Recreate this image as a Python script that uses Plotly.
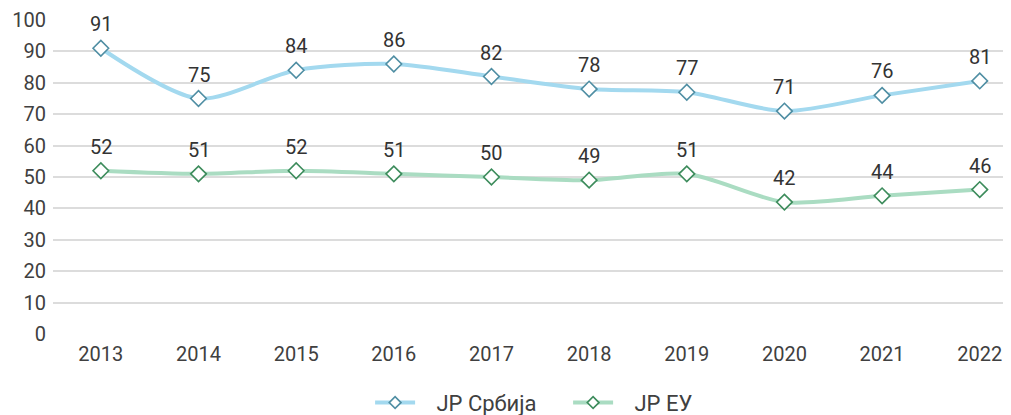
import plotly.graph_objects as go

years = ["2013", "2014", "2015", "2016", "2017", "2018", "2019", "2020", "2021", "2022"]
jp_srbija = [91, 75, 84, 86, 82, 78, 77, 71, 76, 80.6]
jp_eu = [52, 51, 52, 51, 50, 49, 51, 42, 44, 46]
y_ticks = [0, 10, 20, 30, 40, 50, 60, 70, 80, 90, 100]

series = [
    ("JP Србија", jp_srbija, "#a3d9ef", "#4f8ea3"),
    ("JP ЕУ", jp_eu, "#aadcc2", "#3d8c5c"),
]

fig = go.Figure()
annotations = []
for name, vals, lc, mc in series:
    fig.add_trace(go.Scatter(
        x=years, y=vals, name=name, mode="lines+markers", showlegend=False,
        line=dict(color=lc, width=4, shape="spline", smoothing=0.8),
        marker=dict(symbol="diamond", size=12, color="white", line=dict(color=mc, width=1.6)),
        cliponaxis=False,
    ))
    for i, v in enumerate(vals):
        annotations.append(dict(x=i, y=v, xref="x", yref="y", text=f"{v:.0f}", showarrow=False,
                                yshift=24, font=dict(size=20, color="#333333", family="Roboto")))
# legend entries (smaller symbols, as in the reference legend)
for name, vals, lc, mc in series:
    fig.add_trace(go.Scatter(
        x=[None], y=[None], name="\u00a0\u00a0\u00a0" + name, mode="lines+markers", showlegend=True,
        line=dict(color=lc, width=4),
        marker=dict(symbol="diamond", size=9, color="white", line=dict(color=mc, width=1.6)),
    ))

fig.update_layout(
    width=1003, height=407,
    margin=dict(l=45, r=0, t=12, b=81),
    plot_bgcolor="white", paper_bgcolor="white",
    font=dict(family="Roboto", size=20, color="#404040"),
    xaxis=dict(type="category", range=[-0.49, 9.32], showgrid=False, ticks="",
               automargin=False, ticklabelstandoff=6,
               tickfont=dict(size=20, color="#404040")),
    yaxis=dict(range=[0, 100], tickvals=y_ticks, showgrid=True, gridcolor="#dcdcdc", gridwidth=2,
               zeroline=False, ticks="", ticklabelstandoff=6, automargin=False,
               tickfont=dict(size=20, color="#404040")),
    legend=dict(orientation="h", x=0.331, xanchor="left", yref="container", y=0.03, yanchor="middle",
                font=dict(size=22, color="#404040"), itemwidth=40, entrywidth=143),
    annotations=annotations,
    showlegend=True,
)

fig.write_html("out.html")
